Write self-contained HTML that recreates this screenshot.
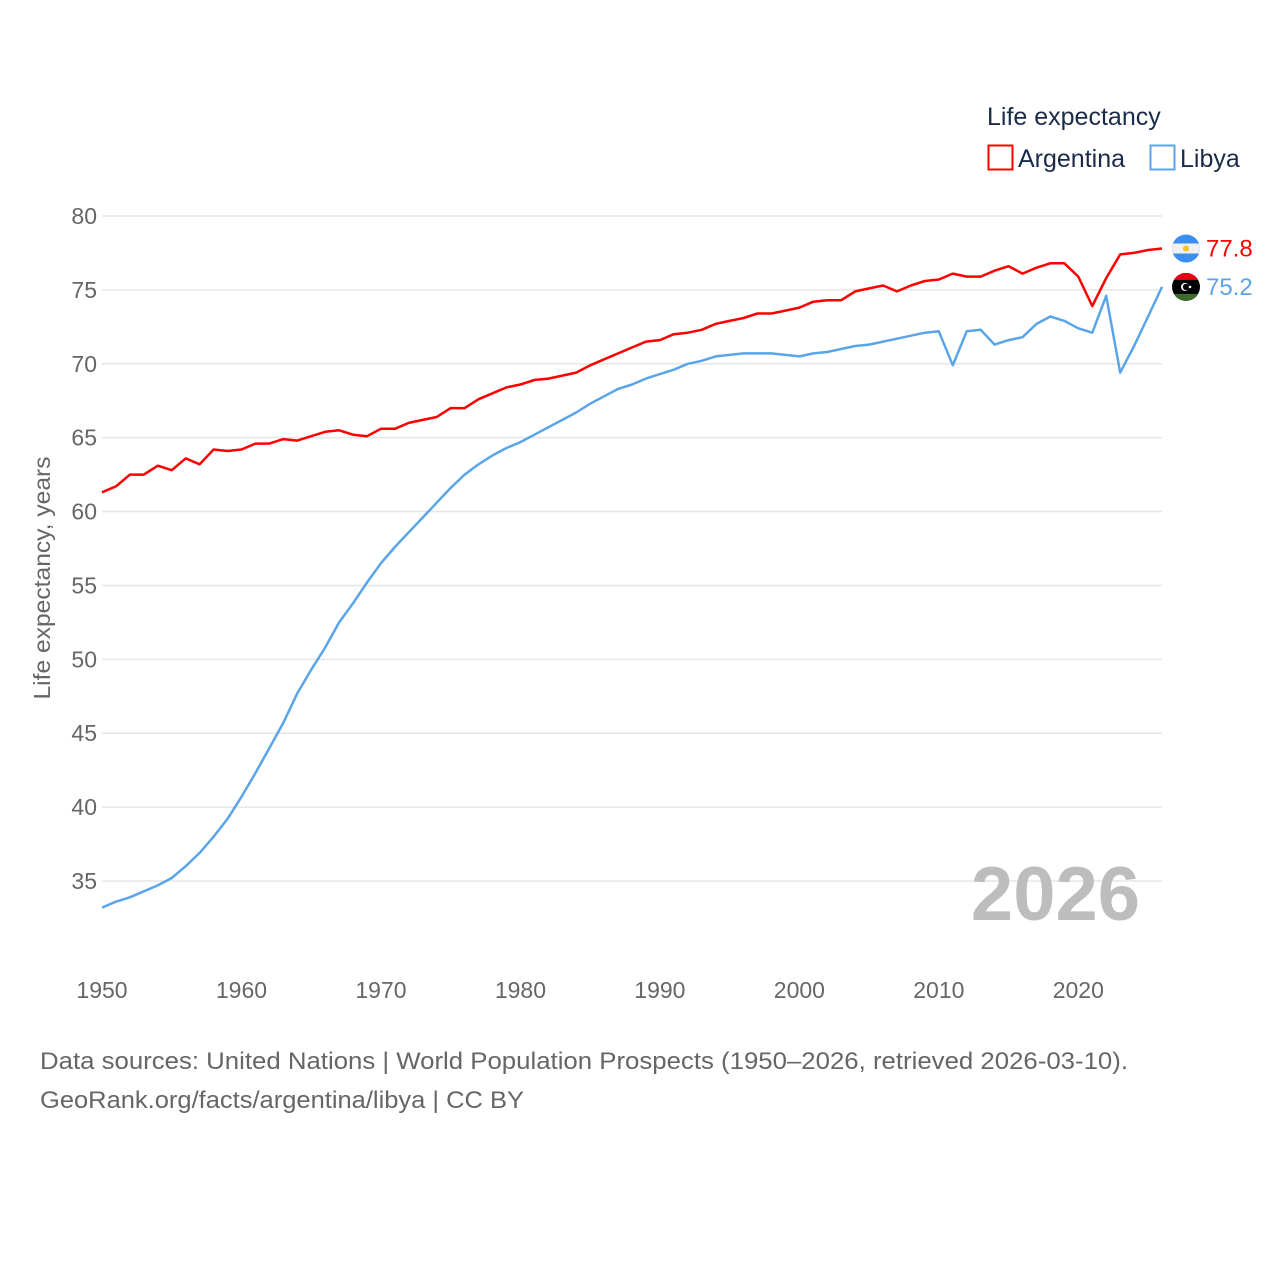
<!DOCTYPE html>
<html><head><meta charset="utf-8"><style>
body{margin:0;background:#fff;}
svg{display:block;font-family:"Liberation Sans",sans-serif;}
</style></head><body>
<svg id="chart" width="1280" height="1280" viewBox="0 0 1280 1280" xmlns="http://www.w3.org/2000/svg">
<rect width="1280" height="1280" fill="#fff"/>
<g id="grid"></g>
<g id="yticks"></g>
<g id="xticks"></g>
<text transform="translate(50,578) rotate(-90)" text-anchor="middle" font-size="23" fill="#666" textLength="243" lengthAdjust="spacingAndGlyphs">Life expectancy, years</text>
<text x="1140" y="920" text-anchor="end" font-size="76" font-weight="bold" fill="#bdbdbd">2026</text>
<g id="series"></g>
<g>
<text x="987" y="125" font-size="25" fill="#1a2b4a">Life expectancy</text>
<rect x="988.5" y="145.5" width="24" height="24" fill="none" stroke="#ff0000" stroke-width="2"/>
<text x="1018" y="167" font-size="25" fill="#1a2b4a">Argentina</text>
<rect x="1150.5" y="145.5" width="24" height="24" fill="none" stroke="#5aa5ea" stroke-width="2"/>
<text x="1180" y="167" font-size="25" fill="#1a2b4a">Libya</text>
</g>
<g id="ends"></g>
<text x="40" y="1069" font-size="24" fill="#666" textLength="1088" lengthAdjust="spacingAndGlyphs">Data sources: United Nations | World Population Prospects (1950–2026, retrieved 2026-03-10).</text>
<text x="40" y="1108" font-size="24" fill="#666" textLength="484" lengthAdjust="spacingAndGlyphs">GeoRank.org/facts/argentina/libya | CC BY</text>
</svg>
<script>
const years = [];
for (let y = 1950; y <= 2026; y++) years.push(y);
const argentina = [61.3,61.7,62.5,62.5,63.1,62.8,63.6,63.2,64.2,64.1,64.2,64.6,64.6,64.9,64.8,65.1,65.4,65.5,65.2,65.1,65.6,65.6,66.0,66.2,66.4,67.0,67.0,67.6,68.0,68.4,68.6,68.9,69.0,69.2,69.4,69.9,70.3,70.7,71.1,71.5,71.6,72.0,72.1,72.3,72.7,72.9,73.1,73.4,73.4,73.6,73.8,74.2,74.3,74.3,74.9,75.1,75.3,74.9,75.3,75.6,75.7,76.1,75.9,75.9,76.3,76.6,76.1,76.5,76.8,76.8,75.9,73.9,75.8,77.4,77.5,77.7,77.8];
const libya = [33.2,33.6,33.9,34.3,34.7,35.2,36.0,36.9,38.0,39.2,40.7,42.3,44.0,45.7,47.7,49.3,50.8,52.5,53.8,55.2,56.5,57.6,58.6,59.6,60.6,61.6,62.5,63.2,63.8,64.3,64.7,65.2,65.7,66.2,66.7,67.3,67.8,68.3,68.6,69.0,69.3,69.6,70.0,70.2,70.5,70.6,70.7,70.7,70.7,70.6,70.5,70.7,70.8,71.0,71.2,71.3,71.5,71.7,71.9,72.1,72.2,69.9,72.2,72.3,71.3,71.6,71.8,72.7,73.2,72.9,72.4,72.1,74.6,69.4,71.2,73.2,75.2];
const yTicks = [35,40,45,50,55,60,65,70,75,80];
const xTicks = [1950,1960,1970,1980,1990,2000,2010,2020];

const NS = "http://www.w3.org/2000/svg";
const xS = y => 102 + (y - 1950) * (1162 - 102) / 76;
const yS = v => 216 + (80 - v) * (881 - 216) / 45;
function mk(tag, attrs, parent, txt) {
  const e = document.createElementNS(NS, tag);
  for (const k in attrs) e.setAttribute(k, attrs[k]);
  if (txt !== undefined) e.textContent = txt;
  parent.appendChild(e);
  return e;
}
const grid = document.getElementById('grid'), yt = document.getElementById('yticks'), xt = document.getElementById('xticks');
yTicks.forEach(v => {
  const l = mk('line', {x1:102, x2:1162, y1:yS(v), y2:yS(v), stroke:'#e6e6e6', 'stroke-width':1.5}, grid);
  
  
  const t = mk('text', {x:97, y:yS(v) + 8, 'text-anchor':'end', 'font-size':23, fill:'#666'}, yt, String(v));
  
  
});
xTicks.forEach(y => {
  const t = mk('text', {x:xS(y), y:998, 'text-anchor':'middle', 'font-size':23, fill:'#666'}, xt, String(y));
  
  
});
const sg = document.getElementById('series');
function line(vals, color, name) {
  const d = vals.map((v, i) => (i ? 'L' : 'M') + xS(years[i]).toFixed(1) + ',' + yS(v).toFixed(1)).join('');
  const p = mk('path', {d:d, fill:'none', stroke:color, 'stroke-width':2.5, 'stroke-linejoin':'round'}, sg);
  
  
}
line(argentina, '#ff0000', 'line-argentina');
line(libya, '#5aa5ea', 'line-libya');

const ends = document.getElementById('ends');
const cx = 1186;
const ay = yS(argentina[argentina.length - 1]);
const ag = mk('g', {}, ends);


const cpa = mk('clipPath', {id:'ca'}, ag);
mk('circle', {cx:cx, cy:ay, r:14}, cpa);
const agc = mk('g', {'clip-path':'url(#ca)'}, ag);
mk('rect', {x:cx-14, y:ay-14, width:28, height:28, fill:'#3a8ef0'}, agc);
mk('rect', {x:cx-14, y:ay-5, width:28, height:10, fill:'#f0f0f0'}, agc);
mk('circle', {cx:cx, cy:ay, r:3, fill:'#f7c520'}, agc);
const at = mk('text', {x:1206, y:ay + 8, 'font-size':24, fill:'#ff0000'}, ends, argentina[argentina.length - 1].toFixed(1));


const ly = yS(libya[libya.length - 1]);
const lg = mk('g', {}, ends);


const cp = mk('clipPath', {id:'cl'}, lg);
mk('circle', {cx:cx, cy:ly, r:14}, cp);
const lgc = mk('g', {'clip-path':'url(#cl)'}, lg);
mk('rect', {x:cx-14, y:ly-14, width:28, height:28, fill:'#000'}, lgc);
mk('rect', {x:cx-14, y:ly-14, width:28, height:7, fill:'#e70013'}, lgc);
mk('rect', {x:cx-14, y:ly+7, width:28, height:7, fill:'#3d6b2a'}, lgc);
mk('circle', {cx:cx-1, cy:ly, r:4, fill:'#fff'}, lgc);
mk('circle', {cx:cx, cy:ly, r:3.2, fill:'#000'}, lgc);
mk('circle', {cx:cx+4, cy:ly, r:1.3, fill:'#fff'}, lgc);
const lt = mk('text', {x:1206, y:ly + 8, 'font-size':24, fill:'#5aa5ea'}, ends, libya[libya.length - 1].toFixed(1));


</script>
</body></html>
